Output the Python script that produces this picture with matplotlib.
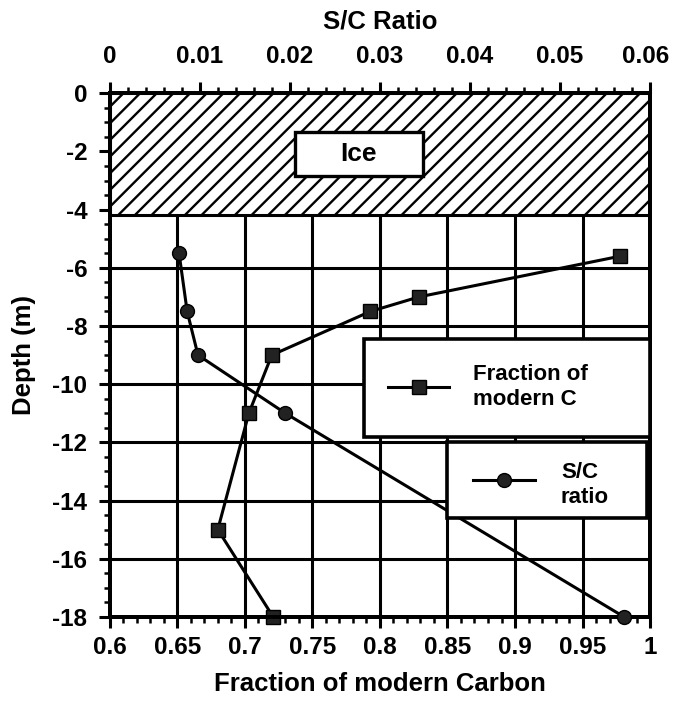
import matplotlib
matplotlib.use("Agg")
import matplotlib.pyplot as plt
from matplotlib.patches import Rectangle
from matplotlib.ticker import MultipleLocator, FixedLocator
from matplotlib.lines import Line2D
from matplotlib.transforms import ScaledTranslation

plt.rcParams['font.family'] = ['Liberation Sans', 'DejaVu Sans']
plt.rcParams['font.weight'] = 'bold'
plt.rcParams['axes.labelweight'] = 'bold'
plt.rcParams['axes.unicode_minus'] = False
plt.rcParams['hatch.linewidth'] = 1.7

# Fraction of modern carbon vs depth
frac_depth = [-5.6, -7.0, -7.5, -9.0, -11.0, -15.0, -18.0]
frac_c = [0.978, 0.829, 0.793, 0.720, 0.703, 0.680, 0.721]

# S/C ratio vs depth
sc_depth = [-5.5, -7.5, -9.0, -11.0, -18.0]
sc_ratio = [0.0077, 0.0086, 0.0098, 0.0195, 0.0571]

bottom_ticks = [0.6, 0.65, 0.7, 0.75, 0.8, 0.85, 0.9, 0.95, 1.0]
bottom_labels = ["0.6", "0.65", "0.7", "0.75", "0.8", "0.85", "0.9", "0.95", "1"]
top_ticks = [0, 0.01, 0.02, 0.03, 0.04, 0.05, 0.06]
top_labels = ["0", "0.01", "0.02", "0.03", "0.04", "0.05", "0.06"]
depth_ticks = [0, -2, -4, -6, -8, -10, -12, -14, -16, -18]

ice_bottom = -4.2

fig = plt.figure(figsize=(6.73, 7.01), dpi=100)
ax = fig.add_axes([0.163, 0.120, 0.803, 0.747])
ax.set_xlim(0.6, 1.0)
ax.set_ylim(-18, 0)

lw_grid = 2.2
for sp in ax.spines.values():
    sp.set_linewidth(2.8)

# grid below the ice layer
for x in bottom_ticks[1:-1]:
    ax.plot([x, x], [-18, ice_bottom], color='black', lw=lw_grid, zorder=1)
for y in depth_ticks[3:-1]:
    ax.plot([0.6, 1.0], [y, y], color='black', lw=lw_grid, zorder=1)

# ice layer
ax.add_patch(Rectangle((0.6, ice_bottom), 0.4, -ice_bottom, facecolor='white',
                       edgecolor='black', hatch='//', lw=2.2, zorder=2))
ax.add_patch(Rectangle((0.737, -2.83), 0.095, 1.5, facecolor='white',
                       edgecolor='black', lw=2.4, zorder=3))
ax.text(0.7845, -2.1, "Ice", ha='center', va='center', fontsize=19, zorder=4)

ax.plot(frac_c, frac_depth, color='black', lw=2.2, marker='s', markersize=10,
        markerfacecolor='#222222', markeredgecolor='black', zorder=5, clip_on=False)

ax.xaxis.set_major_locator(FixedLocator(bottom_ticks))
ax.set_xticklabels(bottom_labels)
ax.xaxis.set_minor_locator(MultipleLocator(0.01))
ax.yaxis.set_major_locator(FixedLocator(depth_ticks))
ax.set_yticklabels([str(d) for d in depth_ticks])
ax.yaxis.set_minor_locator(MultipleLocator(0.5))
ax.tick_params(which='major', direction='out', length=8, width=2.2, labelsize=17.5)
ax.tick_params(axis='x', which='major', pad=6)
ax.tick_params(axis='y', which='major', pad=8)
ax.tick_params(which='minor', direction='out', length=4, width=1.8)
ax.set_xlabel("Fraction of modern Carbon", fontsize=18.5, labelpad=9)
ax.set_ylabel("Depth (m)", fontsize=18.5, labelpad=12)

ax2 = ax.twiny()
ax2.set_xlim(0, 0.06)
for sp in ax2.spines.values():
    sp.set_linewidth(2.8)
ax2.xaxis.set_major_locator(FixedLocator(top_ticks))
ax2.set_xticklabels(top_labels)
ax2.xaxis.set_minor_locator(MultipleLocator(0.002))
ax2.tick_params(which='major', direction='out', length=8, width=2.2, labelsize=17.5, pad=10)
ax2.tick_params(which='minor', direction='out', length=4, width=1.8)
ax2.set_xlabel("S/C Ratio", fontsize=18.5, labelpad=12)

# keep the last top label inside the figure edge
last = ax2.get_xticklabels()[-1]
last.set_ha('right')
last.set_transform(last.get_transform() + ScaledTranslation(0.19, 0, fig.dpi_scale_trans))

ax2.plot(sc_ratio, sc_depth, color='black', lw=2.2, marker='o', markersize=10,
         markerfacecolor='#222222', markeredgecolor='black', zorder=3, clip_on=False)

# legend boxes, positioned in fraction-of-carbon coordinates
tr = ax.transData
ax2.add_patch(Rectangle((0.788, -11.8), 0.212, 3.36, facecolor='white',
                        edgecolor='black', lw=2.6, transform=tr, zorder=6))
ax2.add_patch(Rectangle((0.850, -14.6), 0.148, 2.6, facecolor='white',
                        edgecolor='black', lw=2.6, transform=tr, zorder=6))
ax2.add_line(Line2D([0.806, 0.851], [-10.1, -10.1], color='black', lw=2.2,
                    transform=tr, zorder=7))
ax2.add_line(Line2D([0.829], [-10.1], marker='s', markersize=10, color='black',
                    markerfacecolor='#222222', transform=tr, zorder=7))
ax2.text(0.869, -10.1, "Fraction of\nmodern C", transform=tr, ha='left', va='center',
         fontsize=16, linespacing=1.25, zorder=8)
ax2.add_line(Line2D([0.869, 0.915], [-13.3, -13.3], color='black', lw=2.2,
                    transform=tr, zorder=7))
ax2.add_line(Line2D([0.892], [-13.3], marker='o', markersize=10, color='black',
                    markerfacecolor='#222222', transform=tr, zorder=7))
ax2.text(0.934, -13.45, "S/C\nratio", transform=tr, ha='left', va='center',
         fontsize=16, linespacing=1.25, zorder=8)

fig.savefig("out.png", dpi=100)
